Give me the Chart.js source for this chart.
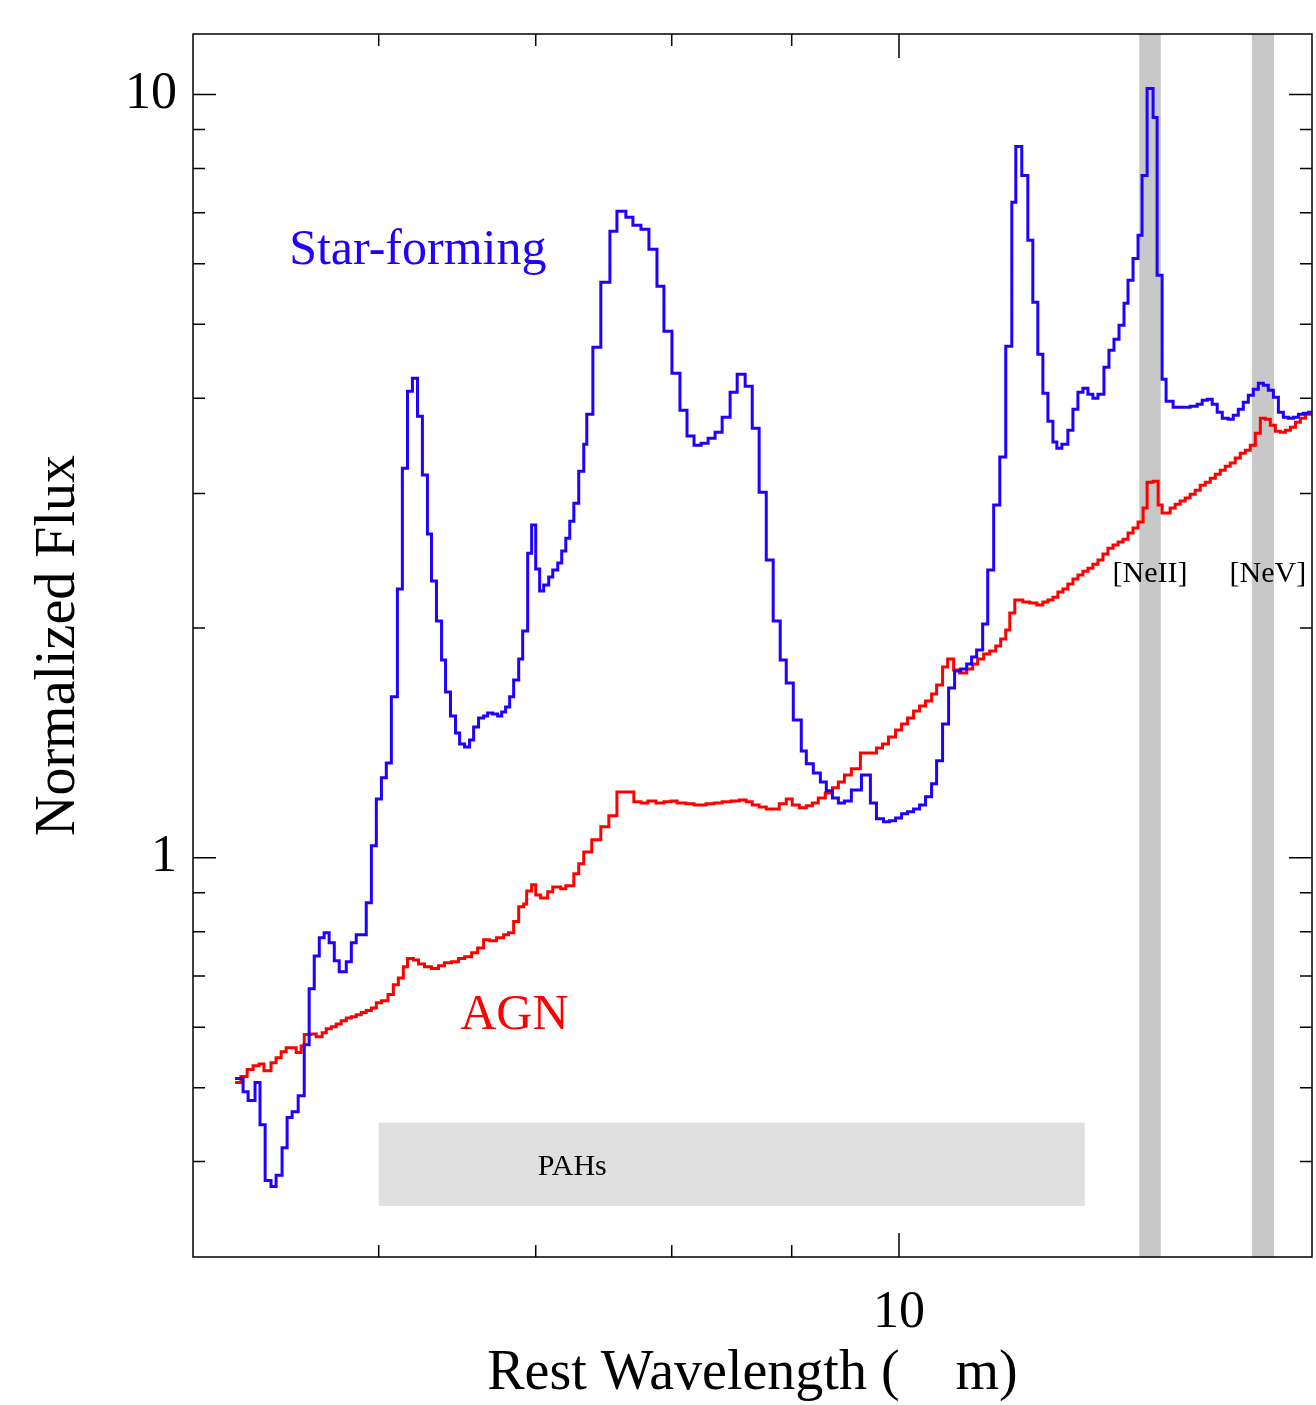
<!DOCTYPE html>
<html>
<head>
<meta charset="utf-8">
<script src="https://cdn.jsdelivr.net/npm/chart.js@4.4.1/dist/chart.umd.min.js"></script>
<style>
  html, body { margin: 0; padding: 0; background: #fff; }
</style>
</head>
<body>
<canvas id="myChart" width="1316" height="1405"></canvas>
<script>
// Star-forming template, left edge of each bin (um) and flux
const starWave = [
  5.211, 5.252, 5.278, 5.314, 5.340, 5.367, 5.398, 5.425, 5.457, 5.484,
  5.511, 5.544, 5.577, 5.604, 5.632, 5.660, 5.687, 5.715, 5.744, 5.772,
  5.812, 5.841, 5.869, 5.927, 5.957, 5.986, 6.016, 6.045, 6.075, 6.111,
  6.141, 6.172, 6.202, 6.233, 6.263, 6.294, 6.319, 6.350, 6.382, 6.407,
  6.438, 6.470, 6.496, 6.528, 6.560, 6.586, 6.618, 6.651, 6.677, 6.710,
  6.743, 6.770, 6.796, 6.823, 6.850, 6.884, 6.911, 6.945, 6.972, 7.000,
  7.027, 7.055, 7.090, 7.118, 7.153, 7.181, 7.210, 7.238, 7.267, 7.302,
  7.338, 7.360, 7.404, 7.462, 7.529, 7.581, 7.648, 7.701, 7.762, 7.823,
  7.885, 7.939, 8.002, 8.065, 8.121, 8.177, 8.234, 8.291, 8.348, 8.406,
  8.472, 8.531, 8.598, 8.658, 8.717, 8.778, 8.838, 8.899, 8.952, 9.014,
  9.085, 9.130, 9.193, 9.257, 9.311, 9.367, 9.422, 9.478, 9.543, 9.638,
  9.723, 9.781, 9.849, 9.907, 9.966, 10.025, 10.084, 10.144, 10.204, 10.264,
  10.325, 10.376, 10.437, 10.499, 10.561, 10.624, 10.687, 10.739, 10.792, 10.856,
  10.910, 10.974, 11.040, 11.105, 11.171, 11.215, 11.281, 11.348, 11.404, 11.460,
  11.517, 11.574, 11.631, 11.676, 11.734, 11.803, 11.862, 11.920, 11.979, 12.038,
  12.097, 12.157, 12.229, 12.289, 12.350, 12.411, 12.472, 12.521, 12.583, 12.645,
  12.695, 12.758, 12.833, 12.884, 12.947, 12.998, 13.088, 13.309, 13.401, 13.467,
  13.534, 13.600, 13.667, 13.735, 13.816, 13.884, 13.953, 14.022, 14.091, 14.160,
  14.230, 14.300, 14.370, 14.442, 14.513, 14.584, 14.656, 14.729, 14.801, 14.874,
  14.948, 15.0
];
const starFlux = [
  0.514, 0.494, 0.481, 0.508, 0.447, 0.378, 0.371, 0.384, 0.417, 0.457,
  0.465, 0.488, 0.569, 0.674, 0.744, 0.786, 0.798, 0.774, 0.733, 0.709,
  0.731, 0.774, 0.793, 0.873, 1.037, 1.194, 1.273, 1.331, 1.625, 2.250,
  3.239, 4.086, 4.249, 3.788, 3.172, 2.655, 2.304, 2.043, 1.816, 1.649,
  1.534, 1.457, 1.410, 1.397, 1.427, 1.484, 1.525, 1.534, 1.548, 1.543,
  1.534, 1.553, 1.576, 1.625, 1.710, 1.822, 1.982, 2.507, 2.728, 2.389,
  2.236, 2.277, 2.332, 2.382, 2.433, 2.523, 2.623, 2.761, 2.915, 3.210,
  3.482, 3.811, 4.665, 5.675, 6.617, 7.029, 6.902, 6.738, 6.657, 6.268,
  5.607, 4.895, 4.314, 3.858, 3.568, 3.471, 3.492, 3.546, 3.611, 3.777,
  4.073, 4.301, 4.148, 3.654, 3.013, 2.455, 2.043, 1.816, 1.695, 1.515,
  1.380, 1.328, 1.292, 1.257, 1.224, 1.198, 1.180, 1.187, 1.227, 1.284,
  1.180, 1.125, 1.115, 1.118, 1.128, 1.142, 1.149, 1.159, 1.173, 1.202,
  1.250, 1.340, 1.497, 1.669, 1.757, 1.768, 1.794, 1.833, 1.872, 2.024,
  2.382, 2.898, 3.349, 4.679, 7.222, 8.550, 7.834, 6.440, 5.343, 4.568,
  4.061, 3.733, 3.504, 3.441, 3.482, 3.633, 3.869, 4.073, 4.123, 4.049,
  4.000, 4.049, 4.391, 4.623, 4.778, 4.985, 5.327, 5.709, 6.099, 6.538,
  7.834, 10.18, 9.330, 5.795, 4.236, 3.964, 3.893, 3.905, 3.928, 3.976,
  3.988, 3.928, 3.834, 3.766, 3.754, 3.800, 3.869, 3.952, 4.037, 4.110,
  4.185, 4.160, 4.098, 4.012, 3.834, 3.777, 3.766, 3.777, 3.811, 3.823,
  3.834, 3.834
];

// AGN template
const agnWave = [
  5.211, 5.241, 5.273, 5.304, 5.335, 5.361, 5.398, 5.425, 5.452, 5.479,
  5.533, 5.560, 5.577, 5.610, 5.643, 5.676, 5.699, 5.727, 5.755, 5.783,
  5.812, 5.841, 5.869, 5.898, 5.927, 5.957, 5.986, 6.016, 6.055, 6.087,
  6.117, 6.147, 6.172, 6.208, 6.239, 6.276, 6.319, 6.363, 6.400, 6.445,
  6.489, 6.528, 6.573, 6.612, 6.651, 6.690, 6.736, 6.783, 6.816, 6.850,
  6.884, 6.918, 6.938, 6.972, 7.000, 7.034, 7.083, 7.118, 7.174, 7.210,
  7.267, 7.302, 7.338, 7.396, 7.462, 7.521, 7.581, 7.708, 7.762, 7.815,
  7.877, 7.939, 7.994, 8.042, 8.113, 8.177, 8.274, 8.340, 8.406, 8.480,
  8.548, 8.607, 8.658, 8.717, 8.778, 8.891, 8.952, 9.005, 9.067, 9.130,
  9.184, 9.238, 9.302, 9.367, 9.422, 9.478, 9.543, 9.628, 9.781, 9.839,
  9.897, 9.966, 10.025, 10.084, 10.144, 10.204, 10.264, 10.325, 10.376, 10.437,
  10.489, 10.551, 10.613, 10.687, 10.750, 10.803, 10.867, 10.931, 10.996, 11.050,
  11.105, 11.149, 11.204, 11.292, 11.370, 11.449, 11.517, 11.574, 11.631, 11.688,
  11.746, 11.803, 11.862, 11.920, 11.979, 12.038, 12.097, 12.157, 12.217, 12.277,
  12.338, 12.399, 12.460, 12.521, 12.583, 12.645, 12.708, 12.758, 12.833, 12.897,
  12.947, 13.050, 13.114, 13.179, 13.244, 13.309, 13.375, 13.441, 13.507, 13.574,
  13.641, 13.708, 13.775, 13.843, 13.911, 13.980, 14.049, 14.118, 14.188, 14.258,
  14.328, 14.399, 14.470, 14.542, 14.613, 14.685, 14.758, 14.830, 14.904, 15.0
];
const agnFlux = [
  0.508, 0.517, 0.528, 0.534, 0.537, 0.526, 0.539, 0.547, 0.557, 0.564,
  0.556, 0.567, 0.587, 0.588, 0.583, 0.590, 0.597, 0.601, 0.606, 0.612,
  0.617, 0.619, 0.623, 0.627, 0.631, 0.636, 0.646, 0.650, 0.662, 0.682,
  0.696, 0.720, 0.738, 0.735, 0.726, 0.720, 0.716, 0.722, 0.729, 0.731,
  0.738, 0.742, 0.751, 0.762, 0.781, 0.779, 0.786, 0.793, 0.798, 0.825,
  0.863, 0.870, 0.905, 0.922, 0.894, 0.886, 0.903, 0.916, 0.911, 0.919,
  0.953, 0.982, 1.018, 1.056, 1.098, 1.135, 1.220, 1.184, 1.180, 1.187,
  1.180, 1.184, 1.187, 1.180, 1.177, 1.173, 1.177, 1.180, 1.184, 1.187,
  1.191, 1.184, 1.173, 1.166, 1.159, 1.177, 1.194, 1.173, 1.163, 1.170,
  1.180, 1.198, 1.216, 1.235, 1.257, 1.284, 1.308, 1.372, 1.393, 1.410,
  1.440, 1.471, 1.497, 1.525, 1.557, 1.581, 1.605, 1.639, 1.684, 1.778,
  1.822, 1.762, 1.746, 1.768, 1.794, 1.822, 1.849, 1.866, 1.894, 1.935,
  1.988, 2.093, 2.176, 2.163, 2.157, 2.144, 2.163, 2.176, 2.195, 2.229,
  2.250, 2.284, 2.318, 2.347, 2.374, 2.396, 2.425, 2.455, 2.500, 2.545,
  2.569, 2.592, 2.615, 2.663, 2.704, 2.753, 2.872, 3.105, 3.115, 2.898,
  2.829, 2.872, 2.906, 2.933, 2.960, 2.995, 3.031, 3.077, 3.105, 3.143,
  3.181, 3.220, 3.259, 3.289, 3.339, 3.389, 3.420, 3.471, 3.600, 3.766,
  3.754, 3.688, 3.622, 3.611, 3.633, 3.666, 3.721, 3.766, 3.811, 3.811
];

// axis ticks
const xMajor = [10];
const xMinor = [6, 7, 8, 9];
const yMajor = [1, 10];
const yMinor = [0.4, 0.5, 0.6, 0.7, 0.8, 0.9, 2, 3, 4, 5, 6, 7, 8, 9];

// shaded regions (um, flux)
const lineBands = [[12.66, 12.93], [14.14, 14.45]];
const pahRange = [6.0, 12.0];
const pahFlux = [0.35, 0.45];

// text labels: text, wavelength, flux
const notes = [
  ['Star-forming', 5.495, 6.0],
  ['AGN', 6.50, 0.597],
  ['[NeII]', 12.795, 2.297],
  ['[NeV]', 14.364, 2.297],
  ['PAHs', 7.256, 0.3847]
];

const SERIF = '"Liberation Serif", "Times New Roman", serif';
const BLUE = '#2000ff';
const RED = '#ff0000';

function pts(w, f) {
  return w.map((v, i) => ({x: v, y: f[i]}));
}

const decor = {
  id: 'decor',
  beforeDatasetsDraw(chart) {
    const {ctx, chartArea: a, scales: {x, y}} = chart;
    ctx.save();
    ctx.fillStyle = '#e0e0e0';
    const l = x.getPixelForValue(pahRange[0]), r = x.getPixelForValue(pahRange[1]);
    const t = y.getPixelForValue(pahFlux[1]), b = y.getPixelForValue(pahFlux[0]);
    ctx.fillRect(l, t, r - l, b - t);
    ctx.fillStyle = '#c8c8c8';
    for (const band of lineBands) {
      const bl = x.getPixelForValue(band[0]), br = x.getPixelForValue(band[1]);
      ctx.fillRect(bl, a.top, br - bl, a.bottom - a.top);
    }
    ctx.restore();
  },
  afterDatasetsDraw(chart) {
    const {ctx, chartArea: a, scales: {x, y}} = chart;
    ctx.save();
    ctx.textBaseline = 'alphabetic';
    const styles = [
      [BLUE, 50, 'left'], [RED, 50, 'left'], ['#000', 30, 'center'],
      ['#000', 30, 'center'], ['#000', 30, 'center']
    ];
    notes.forEach((n, i) => {
      ctx.fillStyle = styles[i][0];
      ctx.font = styles[i][1] + 'px ' + SERIF;
      ctx.textAlign = styles[i][2];
      ctx.fillText(n[0], x.getPixelForValue(n[1]), y.getPixelForValue(n[2]));
    });

    ctx.strokeStyle = '#000';
    ctx.lineWidth = 1.5;
    ctx.strokeRect(a.left, a.top, a.right - a.left, a.bottom - a.top);
    ctx.beginPath();
    const xt = (vals, len) => {
      for (const v of vals) {
        const px = x.getPixelForValue(v);
        ctx.moveTo(px, a.bottom); ctx.lineTo(px, a.bottom - len);
        ctx.moveTo(px, a.top); ctx.lineTo(px, a.top + len);
      }
    };
    const yt = (vals, len) => {
      for (const v of vals) {
        const py = y.getPixelForValue(v);
        ctx.moveTo(a.left, py); ctx.lineTo(a.left + len, py);
        ctx.moveTo(a.right, py); ctx.lineTo(a.right - len, py);
      }
    };
    xt(xMajor, 24); xt(xMinor, 12);
    yt(yMajor, 23); yt(yMinor, 12);
    ctx.stroke();
    ctx.restore();
  }
};

new Chart(document.getElementById('myChart'), {
  type: 'line',
  data: {
    datasets: [{
      label: 'Star-forming',
      data: pts(starWave, starFlux),
      borderColor: BLUE,
      borderWidth: 3,
      pointRadius: 0,
      stepped: true,
      fill: false
    }, {
      label: 'AGN',
      data: pts(agnWave, agnFlux),
      borderColor: RED,
      borderWidth: 3,
      pointRadius: 0,
      stepped: true,
      fill: false
    }]
  },
  options: {
    responsive: false,
    animation: false,
    devicePixelRatio: 1,
    layout: { padding: { top: 34, right: 4, left: 0, bottom: 0 } },
    plugins: { legend: { display: false }, tooltip: { enabled: false } },
    scales: {
      x: {
        type: 'logarithmic',
        min: 5,
        max: 15,
        afterBuildTicks: s => { s.ticks = xMinor.concat(xMajor).map(v => ({value: v})); },
        afterFit: s => { s.height = 148; s.paddingLeft = 0; s.paddingRight = 0; },
        grid: { display: false, drawTicks: false },
        border: { display: false },
        ticks: {
          autoSkip: false, minRotation: 0, maxRotation: 0, padding: 25, color: '#000',
          font: { family: SERIF, size: 52 },
          callback: v => (xMajor.includes(v) ? String(v) : '')
        },
        title: {
          display: true, text: 'Rest Wavelength (    m)', color: '#000',
          font: { family: SERIF, size: 56, lineHeight: 1 },
          padding: { top: 0, bottom: 3 }
        }
      },
      y: {
        type: 'logarithmic',
        min: 0.3,
        max: 12,
        afterBuildTicks: s => { s.ticks = yMinor.concat(yMajor).sort((p, q) => p - q).map(v => ({value: v})); },
        afterFit: s => { s.width = 193; s.paddingTop = 0; s.paddingBottom = 0; },
        grid: { display: false, drawTicks: false },
        border: { display: false },
        ticks: {
          autoSkip: false, padding: 16, color: '#000',
          font: { family: SERIF, size: 52 },
          callback: v => (yMajor.includes(v) ? String(v) : '')
        },
        title: {
          display: true, text: 'Normalized Flux', color: '#000',
          font: { family: SERIF, size: 56, lineHeight: 1 },
          padding: { top: 31, bottom: 0 }
        }
      }
    }
  },
  plugins: [decor]
});
</script>
</body>
</html>
